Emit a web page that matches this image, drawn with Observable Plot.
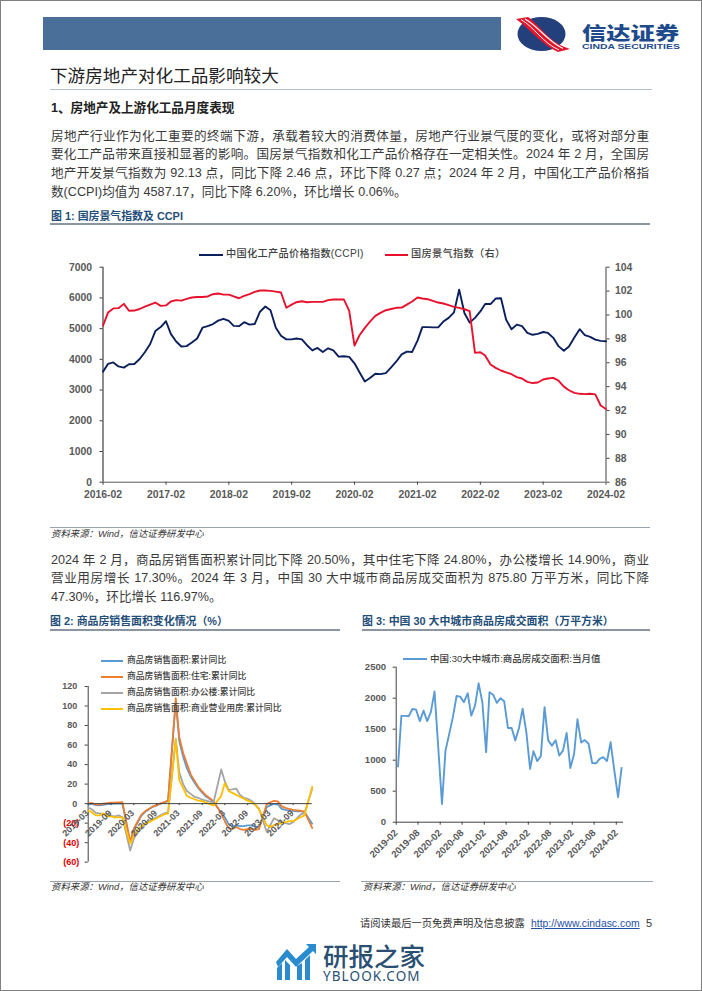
<!DOCTYPE html>
<html><head><meta charset="utf-8">
<script src="https://cdn.jsdelivr.net/npm/d3@7"></script>
<script src="https://cdn.jsdelivr.net/npm/@observablehq/plot@0.6"></script>
<style>
html,body{margin:0;padding:0;background:#fff}
#page{position:relative;width:702px;height:991px;overflow:hidden;box-sizing:border-box;border:1px solid #808080;font-family:"Liberation Sans","Noto Sans CJK SC",sans-serif;color:#333}
#page>*{position:absolute}
.t{white-space:nowrap;line-height:1}
.j{width:598px;left:50px;font-size:12.6px;line-height:1;text-align:justify;text-align-last:justify;color:#3a3a3a;height:14px;overflow:hidden}
.rule{height:1px;background:#9aa3ad}
.cap{font-size:10.9px;font-weight:700;color:#1f4e79;white-space:nowrap;line-height:1}
.src{font-size:9.4px;font-style:italic;color:#333;white-space:nowrap;line-height:1}
.lg{font-size:10.2px;color:#404040;white-space:nowrap;line-height:1;font-weight:500;letter-spacing:.3px}
.lk{height:2px}
</style></head><body>
<div id="page"></div>
<script>
// ---------- Figure 1 ----------
const ccpi = [3600,3850,3900,3770,3730,3840,3850,4010,4230,4500,4920,5050,5240,4830,4580,4420,4430,4550,4680,5030,5080,5150,5260,5320,5250,5090,5080,5210,5130,5150,5550,5720,5600,5030,4770,4650,4650,4680,4650,4460,4290,4370,4240,4360,4290,4090,4100,4080,3870,3580,3280,3390,3530,3520,3550,3740,3930,4160,4250,4240,4610,5050,5050,5040,5040,5230,5350,5530,6270,5500,5200,5350,5560,5800,5800,5980,5990,5290,4980,5130,5080,4860,4800,4830,4890,4860,4700,4430,4280,4420,4710,4980,4790,4730,4640,4600,4587.17];
const housing = [99.1,100.2,100.55,100.57,100.93,100.35,100.37,100.5,100.7,100.87,101.04,100.76,100.8,101.13,101.24,101.2,101.35,101.46,101.5,101.5,101.55,101.74,101.8,101.7,101.7,101.55,101.4,101.6,101.74,101.93,102.05,102.05,102.02,101.96,101.88,100.6,100.87,101.07,101.15,101.07,101.1,101.1,101.1,101.24,101.3,101.3,101.3,100.37,97.44,98.3,98.92,99.45,99.92,100.18,100.4,100.5,100.6,100.62,100.87,101.13,101.46,101.38,101.32,101.18,101.04,100.96,100.82,100.68,100.6,100.48,100.32,96.83,96.88,96.6,95.85,95.57,95.35,95.2,95.04,94.8,94.68,94.4,94.3,94.35,94.6,94.68,94.73,94.5,94.0,93.7,93.48,93.4,93.37,93.4,93.35,92.42,92.13];
const fig1Years = ["2016-02","2017-02","2018-02","2019-02","2020-02","2021-02","2022-02","2023-02","2024-02"];
const leftTicks = [0,1000,2000,3000,4000,5000,6000,7000];
const rightTicks = [86,88,90,92,94,96,98,100,102,104];

// ---------- Figure 2 ----------
const salesMonths = ["2019-03","2019-04","2019-05","2019-06","2019-07","2019-08","2019-09","2019-10","2019-11","2019-12",
"2020-02","2020-03","2020-04","2020-05","2020-06","2020-07","2020-08","2020-09","2020-10","2020-11","2020-12",
"2021-02","2021-03","2021-04","2021-05","2021-06","2021-07","2021-08","2021-09","2021-10","2021-11","2021-12",
"2022-02","2022-03","2022-04","2022-05","2022-06","2022-07","2022-08","2022-09","2022-10","2022-11","2022-12",
"2023-02","2023-03","2023-04","2023-05","2023-06","2023-07","2023-08","2023-09","2023-10","2023-11","2023-12","2024-02"];
const salesTotal = [-0.9,-0.3,-1.6,-1.8,-1.3,-0.6,-0.1,0.1,0.2,-0.1,-39.9,-26.3,-19.3,-12.3,-8.4,-5.8,-3.3,-1.8,0,1.3,2.6,104.9,63.8,48.1,36.3,27.7,21.5,15.9,11.3,7.3,4.8,1.9,-9.6,-13.8,-20.9,-23.6,-22.2,-23.1,-23,-22.2,-22.3,-23.3,-24.3,-3.6,-1.8,-0.4,-0.9,-5.3,-6.5,-7.1,-7.5,-7.8,-8,-8.5,-20.5];
const salesHome = [0.6,0.6,-0.7,-1,0,0.6,1,1.1,1.3,1.5,-39.2,-25.9,-18.3,-11.2,-7.6,-5.2,-2.9,-1.5,0.3,1.6,3.2,108,68,52,41,30,23.6,17,12.5,8.5,5.6,2.5,-10,-18,-25,-26,-24,-26,-27,-26,-26,-27,-26,-0.5,1.4,2.8,2.3,-2.8,-4.4,-5.5,-6.4,-6.8,-7.3,-8.2,-24.8];
const salesOffice = [-3.9,-6,-9.5,-10,-10.5,-11,-12.5,-13,-12,-14,-48,-36,-29,-24,-20,-18,-16,-14,-12,-10,-9,66,32,20,13,10,7,6,4,3,2,1.2,35,23,14,14.5,15.5,9,6,5,3,-1,-5,-29,-22,-15,-17,-19,-20,-21,-19,-15,-11,-9.8,14.9];
const salesRetail = [-7,-9,-12,-12,-10,-13,-13,-14,-14,-14,-41,-33,-27,-23,-21,-19,-17,-15,-13,-11,-10,66,24,16,8,6,4.5,3,2.5,1,-0.5,-2,8,21,13,11,9,7,5,3,1.5,-1,-6,-22,-24,-22,-21,-20,-19,-18,-18,-16,-14,-12,17.3];
const fig2Ticks = ["2019-03","2019-09","2020-03","2020-09","2021-03","2021-09","2022-03","2022-09","2023-03","2023-09"];
const fig2Y = [-60,-40,-20,0,20,40,60,80,100,120];

// ---------- Figure 3 ----------
const tradedArea = [898,1715,1715,1710,1825,1815,1630,1800,1630,1780,2110,1200,295,1155,1425,1690,2035,2025,1935,2080,1720,1880,2240,1930,1130,2095,2055,1925,2000,1950,1520,1520,1320,1520,1830,1450,860,1145,985,1065,1855,1320,1235,1320,1075,1155,1440,875,1100,1660,1285,1325,1265,955,950,1020,1050,985,1290,830,405,875.8];
const fig3Ticks = ["2019-02","2019-08","2020-02","2020-08","2021-02","2021-08","2022-02","2022-08","2023-02","2023-08","2024-02"];
const fig3Y = [0,500,1000,1500,2000,2500];

// ---------- text ----------
const pageTitle = "下游房地产对化工品影响较大";
const subhead = "1、房地产及上游化工品月度表现";
const para1 = ["房地产行业作为化工重要的终端下游，承载着较大的消费体量，房地产行业景气度的变化，或将对部分重",
"要化工产品带来直接和显著的影响。国房景气指数和化工产品价格存在一定相关性。2024 年 2 月，全国房",
"地产开发景气指数为 92.13 点，同比下降 2.46 点，环比下降 0.27 点；2024 年 2 月，中国化工产品价格指"];
const para1End = "数(CCPI)均值为 4587.17，同比下降 6.20%，环比增长 0.06%。";
const para2 = ["2024 年 2 月，商品房销售面积累计同比下降 20.50%，其中住宅下降 24.80%，办公楼增长 14.90%，商业",
"营业用房增长 17.30%。2024 年 3 月，中国 30 大中城市商品房成交面积为 875.80 万平方米，同比下降"];
const para2End = "47.30%，环比增长 116.97%。";
const source = "资料来源：Wind，信达证券研发中心";

const page = document.getElementById("page");
const parseM = d3.utcParse("%Y-%m");
function el(cls, x, y, text, css){
  const d = document.createElement("div");
  d.className = cls;
  d.style.cssText = `left:${x-1}px;top:${y-1}px;` + (css||"");
  if(text!=null) d.textContent = text;
  page.appendChild(d); return d;
}
// header band
el("", 43, 17, null, "width:458px;height:33px;background:#4a6f98");
// logo
const logo = el("", 514, 15, null, "width:62px;height:40px");
logo.innerHTML = `<svg width="62" height="40" viewBox="0 0 62 40">
<ellipse cx="27.5" cy="19" rx="24" ry="17" fill="#23407c"/>
<path d="M2 4 L14 2 C26 10 34 27 56 34 L44 37 C28 30 16 14 2 4Z" fill="#e4152b"/>
<path d="M11 4 C24 11 33 26 49 33.5" fill="none" stroke="#fff" stroke-width="1.2"/>
<path d="M7 4.5 C20 12 29 28 45 35" fill="none" stroke="#fff" stroke-width="1"/></svg>`;
el("t", 582, 23, "信达证券", "font-size:18px;font-weight:900;color:#1e4a8c;font-family:'Noto Sans CJK SC';transform:scaleX(1.35);transform-origin:0 0");
el("t", 582, 42.5, "CINDA SECURITIES", "font-size:8px;font-weight:700;color:#1e4a8c;transform:scaleX(1.3);transform-origin:0 0");

// headings & paragraphs
el("t", 50, 68, pageTitle, "font-size:17.6px;color:#222");
el("rule", 50, 89, null, "width:602px;background:#b4bfcd");
el("t", 51, 102, subhead, "font-size:12.6px;font-weight:700;color:#222");
para1.forEach((s,i)=>el("j", 51, [130,148,167][i], s));
el("t", 51, 186, para1End, "font-size:12.6px;color:#3a3a3a;letter-spacing:.02px");
el("cap", 51, 211, "图 1:  国房景气指数及 CCPI");
el("", 50, 223, null, "width:600px;height:1.5px;background:#8c96a3");

// Figure 1 legend
el("lk", 199, 253.5, null, "width:24px;background:#0b1f5c");
el("lg", 226, 249, "中国化工产品价格指数(CCPI)");
el("lk", 385, 253.5, null, "width:23px;background:#e8112d");
el("lg", 411, 249, "国房景气指数（右）");

// ---------- Plot helpers ----------
const gray = "#595959";
function mount(plot, x, y){
  plot.style.position="absolute"; plot.style.left=(x-1)+"px"; plot.style.top=(y-1)+"px";
  plot.style.maxWidth="none"; page.appendChild(plot);
}
const baseStyle = s => ({fontFamily:"'Liberation Sans',Arial,sans-serif",fontWeight:700,fontSize:s+"px",background:"transparent",overflow:"visible",color:gray});

// ---------- Figure 1 ----------
const months1 = d3.utcMonth.range(parseM("2016-02"), d3.utcMonth.offset(parseM("2024-02"),1));
const toLeft = v => (v-86)/18*7000;
const toRight = v => 86 + v/7000*18;
const fig1 = Plot.plot({
  width:600,height:240,marginLeft:52.5,marginRight:44.5,marginTop:8.7,marginBottom:16.3,
  style:baseStyle(10.4),
  x:{type:"utc",domain:[parseM("2016-02"),parseM("2024-02")]},
  y:{domain:[0,7000]},
  marks:[
    Plot.ruleX([parseM("2016-02")],{stroke:"#404040",strokeWidth:1.2}),
    Plot.ruleX([parseM("2024-02")],{stroke:"#404040",strokeWidth:1}),
    Plot.ruleY([0],{stroke:"#595959",strokeWidth:1}),
    Plot.axisX({ticks:fig1Years.map(parseM),tickFormat:d3.utcFormat("%Y-%m"),tickSize:3,tickPadding:5,label:null,color:gray,stroke:"#404040"}),
    Plot.axisY({ticks:leftTicks,tickFormat:d=>String(d),tickSize:3,tickPadding:8,label:null,color:gray,stroke:"#404040"}),
    Plot.axisY({anchor:"right",ticks:rightTicks.map(toLeft),tickFormat:d=>String(Math.round(toRight(d))),tickSize:3,tickPadding:6,label:null,color:gray,stroke:"#404040"}),
    Plot.lineY(ccpi,{x:(d,i)=>months1[i],y:d=>d,stroke:"#0b1f5c",strokeWidth:1.9}),
    Plot.lineY(housing,{x:(d,i)=>months1[i],y:d=>toLeft(d),stroke:"#e8112d",strokeWidth:1.9})
  ]
});
mount(fig1,50,258);
el("rule", 50, 527, null, "width:600px");
el("src", 51, 529, source);

// paragraph 2
para2.forEach((s,i)=>el("j", 51, [554,572][i], s));
el("t", 51, 591, para2End, "font-size:12.6px;color:#3a3a3a");

// captions
el("cap", 50, 616, "图 2:  商品房销售面积变化情况（%）");
el("", 50, 629, null, "width:290px;height:1.5px;background:#8c96a3");
el("cap", 362, 616, "图 3:  中国 30 大中城市商品房成交面积（万平方米）");
el("", 362, 629, null, "width:288px;height:1.5px;background:#8c96a3");

// ---------- Figure 2 ----------
const dates2 = salesMonths.map(parseM);
const colors2 = ["#5b9bd5","#ed7d31","#a5a5a5","#ffc000"];
const series2 = [salesTotal,salesHome,salesOffice,salesRetail];
const names2 = ["商品房销售面积:累计同比","商品房销售面积:住宅:累计同比","商品房销售面积:办公楼:累计同比","商品房销售面积:商业营业用房:累计同比"];
const fig2 = Plot.plot({
  width:290,height:190,marginLeft:37.7,marginRight:28.3,marginTop:6,marginBottom:8.3,
  style:baseStyle(9),
  x:{type:"utc",domain:[parseM("2019-03"),parseM("2024-02")],axis:null},
  y:{domain:[-60,120]},
  marks:[
    Plot.ruleX([parseM("2019-03")],{stroke:"#404040",strokeWidth:1}),
    Plot.axisY({ticks:fig2Y.filter(d=>d>=0),tickFormat:d=>String(d),tickSize:3,tickPadding:8,label:null,color:gray,stroke:"#404040"}),
    Plot.axisY({ticks:fig2Y.filter(d=>d<0),tickFormat:d=>`(${-d})`,tickSize:3,tickPadding:6,label:null,color:"#e00000",stroke:"#404040"}),
    ...series2.map((s,k)=>Plot.lineY(s,{x:(d,i)=>dates2[i],y:d=>d,stroke:colors2[k],strokeWidth:1.8})),
    Plot.ruleY([0],{stroke:"#404040",strokeWidth:1}),
    Plot.ruleX(fig2Ticks.map(parseM),{x:d=>d,y1:()=>0,y2:()=>-2,stroke:"#404040"}),
    Plot.text(fig2Ticks,{x:d=>parseM(d),y:()=>0,text:d=>d,rotate:-45,textAnchor:"end",dx:-1,dy:8,fill:gray})
  ]
});
mount(fig2,50,680);
names2.forEach((n,i)=>{
  const y=[660,676,692,708][i];
  el("lk",101,y,null,`width:22px;background:${colors2[i]}`);
  el("lg",127,y-4,n,"font-size:8.8px;letter-spacing:0");
});
el("rule", 50, 881, null, "width:290px");
el("src", 51, 882, source);

// ---------- Figure 3 ----------
const months3 = d3.utcMonth.range(parseM("2019-02"), d3.utcMonth.offset(parseM("2019-02"),tradedArea.length));
const fig3 = Plot.plot({
  width:290,height:225,marginLeft:33.7,marginRight:29,marginTop:16.7,marginBottom:53.3,
  style:baseStyle(9.6),
  x:{type:"utc",domain:[parseM("2019-02"),parseM("2024-04")]},
  y:{domain:[0,2500]},
  marks:[
    Plot.ruleX([parseM("2019-02")],{stroke:"#404040",strokeWidth:1}),
    Plot.ruleY([0],{stroke:"#404040",strokeWidth:1}),
    Plot.axisX({ticks:fig3Ticks.map(parseM),tickFormat:d3.utcFormat("%Y-%m"),tickRotate:-45,tickSize:3,tickPadding:6,label:null,color:gray,stroke:"#404040"}),
    Plot.axisY({ticks:fig3Y,tickFormat:d=>String(d),tickSize:3,tickPadding:7,label:null,color:gray,stroke:"#404040"}),
    Plot.lineY(tradedArea,{x:(d,i)=>d3.utcDay.offset(months3[i],15),y:d=>d,stroke:"#5b9bd5",strokeWidth:1.9})
  ]
});
mount(fig3,362,650);
el("lk",403,658,null,"width:24px;background:#5b9bd5");
el("lg",430,654,"中国:30大中城市:商品房成交面积:当月值","font-size:9.5px;letter-spacing:0");
el("rule", 361, 881, null, "width:292px");
el("src", 363, 882, source);

// footer
el("t",360,919,"请阅读最后一页免费声明及信息披露","font-size:10.3px;color:#333");
el("t",531,919,"http://www.cindasc.com","font-size:10.4px;color:#1f4ea8;text-decoration:underline");
el("t",646,918,"5","font-size:11px;color:#333");

// watermark
const wm = el("",276,942,null,"width:44px;height:42px");
wm.innerHTML = `<svg width="42" height="40" viewBox="0 0 42 40"><g fill="#2a8ccf">
<path d="M1 38V26l5-5v17z"/><path d="M9 38V18l5 5v15z" /><path d="M21 38V24l5-3v17z"/><path d="M29 38V18l5-5v25z"/>
<path d="M0 20L11 7l9 10L33 5l-3-3h10v10l-3-3L20 25 11 15 2 25z"/></g></svg>`;
el("t",323,942,"研报之家","font-size:25.5px;font-weight:500;color:#2a4f73;font-family:'Noto Sans CJK SC';height:26px");
el("t",323,970,"YBLOOK.COM","font-size:13.5px;font-family:'Noto Sans';color:#2a4f73;letter-spacing:1.1px");
</script>
</body></html>
